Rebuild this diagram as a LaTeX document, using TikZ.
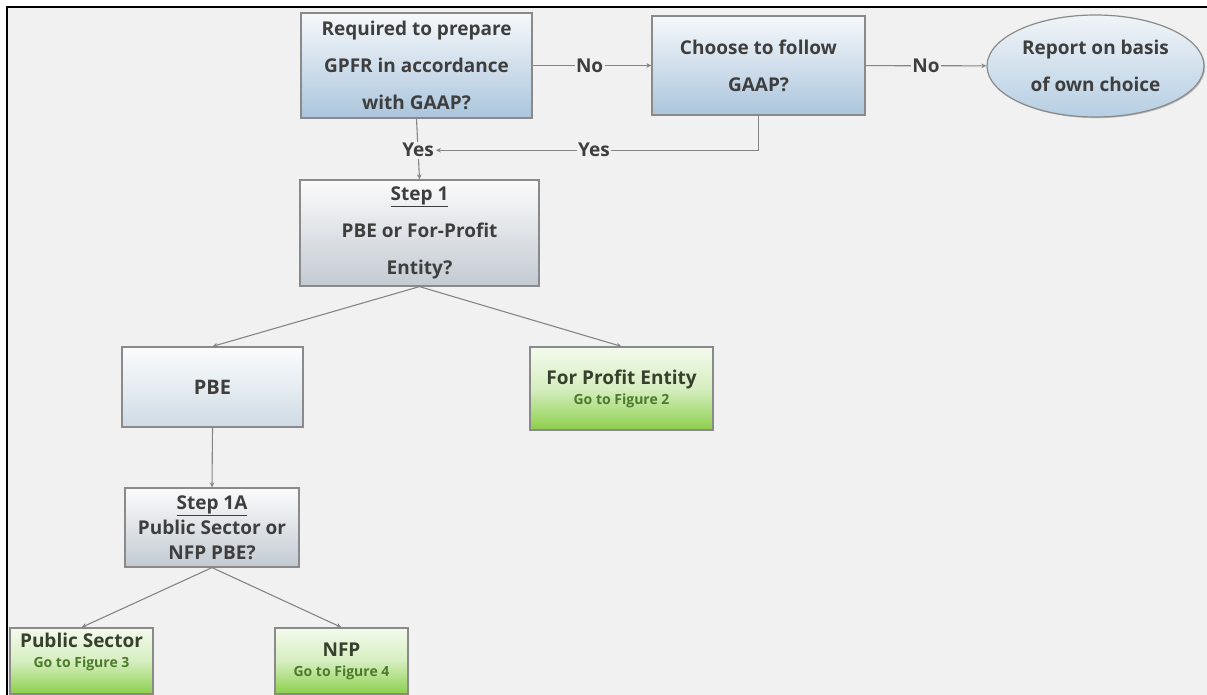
\documentclass[tikz,border=0pt]{standalone}
\usepackage{fontspec}
\setmainfont{Open Sans}
\usetikzlibrary{arrows.meta,shapes.geometric,shadows}

\definecolor{bg}{HTML}{F1F1F1}
\definecolor{edge}{HTML}{8A8A8A}
\definecolor{wire}{HTML}{858585}
\definecolor{txt}{HTML}{3E3E3E}
\definecolor{gtxt}{HTML}{36402C}
\definecolor{gsub}{HTML}{4C7A2C}
% gradient end colours
\definecolor{blueTop}{HTML}{F6F8FB}
\definecolor{blueBot}{HTML}{ABC5DC}
\definecolor{greyTop}{HTML}{FBFBFB}
\definecolor{greyBot}{HTML}{C3CAD2}
\definecolor{paleTop}{HTML}{FBFCFD}
\definecolor{paleBot}{HTML}{CFDBE5}
\definecolor{greenTop}{HTML}{F4FAEE}
\definecolor{greenMid}{HTML}{D6EEC0}
\definecolor{greenBot}{HTML}{8CCF4C}
\definecolor{ovalTop}{HTML}{F0F4F8}
\definecolor{ovalBot}{HTML}{B6CEE3}

\tikzset{
  softshadow/.style={drop shadow={shadow xshift=1.2pt, shadow yshift=-1.2pt,
    opacity=0.22, fill=black}},
  basebox/.style={rectangle, draw=edge, line width=1.2pt, align=center,
    text=txt, inner sep=2pt, softshadow},
  bluebox/.style={basebox, top color=blueTop, bottom color=blueBot},
  greybox/.style={basebox, top color=greyTop, bottom color=greyBot},
  palebox/.style={basebox, top color=paleTop, bottom color=paleBot},
  greenbox/.style={basebox, text=gtxt, top color=greenTop, bottom color=greenBot,
    middle color=greenMid, font=\bfseries\fontsize{19}{20}\selectfont},
  conn/.style={draw=wire, line width=1.1pt, -{Stealth[length=5pt,width=4.5pt]}},
  lbl/.style={fill=bg, inner sep=1.5pt, text=txt, font=\bfseries\fontsize{19}{19}\selectfont},
  big/.style={font=\bfseries\fontsize{19}{37}\selectfont},
  mid/.style={font=\bfseries\fontsize{19}{25}\selectfont},
}
\newcommand{\subline}[1]{{\color{gsub}\fontsize{14}{16}\selectfont #1}}

\begin{document}
\begin{tikzpicture}[x=1pt, y=-1pt]
  \useasboundingbox (0,0) rectangle (1207,695);
  \begin{scope}
    \clip (0,0) rectangle (1207,695);
    % canvas and frame
    \fill[white] (0,0) rectangle (1207,695);
    \fill[bg] (7,7) rectangle (1207,695);
    \draw[black, line width=2pt] (6,7) -- (1207,7);
    \draw[black, line width=2pt] (7,7) -- (7,695);

    % top row
    \node[bluebox, big, minimum width=231pt, minimum height=105pt] (q1) at (416.5,65.5)
      {Required to prepare\\GPFR in accordance\\with GAAP?};
    \node[bluebox, big, minimum width=213pt, minimum height=99pt] (q2) at (758.5,65.5)
      {Choose to follow\\GAAP?};
    \node[ellipse, draw=edge, line width=1.2pt, align=center, text=txt, big,
      top color=ovalTop, bottom color=ovalBot,
      minimum width=217pt, minimum height=102pt, inner sep=0pt, softshadow]
      (own) at (1095.5,66) {Report on basis\\of own choice};

    % step 1
    \node[greybox, big, minimum width=239pt, minimum height=106pt] (s1) at (419.5,233)
      {\underline{Step 1}\\PBE or For-Profit\\Entity?};

    % second level
    \node[palebox, font=\bfseries\fontsize{20}{22}\selectfont,
      minimum width=181pt, minimum height=80pt] (pbe) at (212.5,387) {PBE};
    \node[greenbox, minimum width=183pt, minimum height=83pt] (fp) at (621.5,388.5)
      {For Profit Entity\\\subline{Go to Figure 2}};

    % step 1A
    \node[greybox, mid, minimum width=174pt, minimum height=79pt] (s1a) at (212,527.5)
      {\underline{Step 1A}\\Public Sector or\\NFP PBE?};

    % bottom row
    \node[greenbox, minimum width=143pt, minimum height=66pt] (ps) at (81.5,661) {};
    \node[align=center, text=gtxt, inner sep=0pt,
      font=\bfseries\fontsize{19}{20}\selectfont] (pstext) at (81.5,652)
      {Public Sector\\\subline{Go to Figure 3}};
    \node[greenbox, minimum width=133pt, minimum height=66pt] (nfp) at (341.5,661)
      {NFP\\\subline{Go to Figure 4}};

    % connectors
    \draw[conn] (q1) -- (q2) node[lbl, pos=0.48] (no1) {No};
    \draw[conn] (q2) -- (own) node[lbl, pos=0.5] (no2) {No};
    \draw[conn] (q1.south) -- (s1.north) node[lbl, pos=0.52] (yes1) {Yes};
    \draw[conn] (q2.south) |- (yes1.east) node[lbl, pos=0.755] (yes2) {Yes};
    \draw[conn] (s1.south) -- (pbe.north);
    \draw[conn] (s1.south) -- (fp.north);
    \draw[conn] (pbe.south) -- (s1a.north);
    \draw[conn] (s1a.south) -- (ps.north);
    \draw[conn] (s1a.south) -- (nfp.north);
  \end{scope}
\end{tikzpicture}
\end{document}
